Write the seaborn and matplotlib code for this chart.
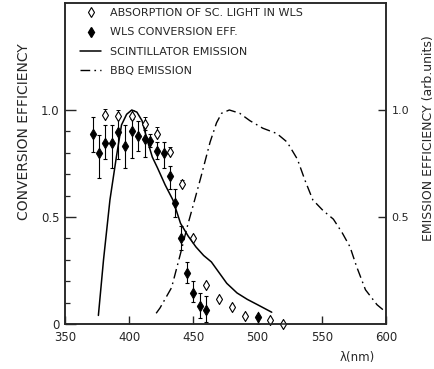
import numpy as np
import matplotlib
matplotlib.use("Agg")
import matplotlib.pyplot as plt
from matplotlib.lines import Line2D
import seaborn as sns

# ---------------- data ----------------
scint_x = [376, 380, 385, 390, 394, 398, 402, 406, 410, 414, 418, 422, 428, 434,
           440, 446, 452, 458, 464, 470, 476, 484, 492, 500, 511]
scint_y = [0.04, 0.30, 0.58, 0.78, 0.93, 0.98, 1.00, 0.99, 0.95, 0.86, 0.78, 0.73,
           0.65, 0.58, 0.47, 0.41, 0.36, 0.32, 0.29, 0.24, 0.19, 0.145, 0.115, 0.09, 0.055]

bbq_x = [421, 424, 433, 440, 445, 451, 456, 463, 468, 472, 478, 486, 494, 504, 515,
         523, 531, 537, 543, 551, 559, 566, 572, 577, 584, 593, 598]
bbq_y = [0.05, 0.075, 0.17, 0.33, 0.45, 0.58, 0.69, 0.85, 0.94, 0.985, 1.0, 0.985, 0.95,
         0.915, 0.89, 0.85, 0.77, 0.67, 0.58, 0.53, 0.49, 0.425, 0.36, 0.27, 0.16, 0.09, 0.065]

wls_x = [371.5, 376.5, 381.5, 386.5, 391.5, 396.5, 402, 407, 412, 416, 422, 427, 432,
         436, 440, 445, 450, 455, 460, 500]
wls_y = [0.89, 0.80, 0.845, 0.845, 0.895, 0.83, 0.90, 0.88, 0.865, 0.857, 0.81, 0.80,
         0.69, 0.565, 0.40, 0.24, 0.146, 0.084, 0.065, 0.031]
wls_err_lo = [0.085, 0.12, 0.075, 0.115, 0.125, 0.10, 0.125, 0.07, 0.085, 0.03, 0.04,
              0.07, 0.06, 0.065, 0.055, 0.05, 0.045, 0.056, 0.055, 0.031]
wls_err_hi = [0.075, 0.085, 0.085, 0.085, 0.075, 0.10, 0.06, 0.07, 0.04, 0.03, 0.04,
              0.05, 0.05, 0.065, 0.06, 0.05, 0.054, 0.061, 0.065, 0.01]

abs_x = [381.5, 391.5, 402, 412, 422, 432, 441, 450, 460, 470, 480, 490, 510, 520]
abs_y = [0.975, 0.97, 0.97, 0.935, 0.89, 0.805, 0.655, 0.40, 0.18, 0.117, 0.081,
         0.039, 0.019, 0.0]
abs_err = [0.03, 0.03, 0.03, 0.03, 0.03, 0.02, 0.02, 0.0, 0.0, 0.0, 0.0, 0.0, 0.0, 0.0]

x_ticks = [350, 400, 450, 500, 550, 600]
left_ticks = [0, 0.5, 1.0]
left_labels = ["0", "0.5", "1.0"]
right_ticks = [0.5, 1.0]
right_labels = ["0.5", "1.0"]

legend_labels = ["ABSORPTION OF SC. LIGHT IN WLS", "WLS CONVERSION EFF.",
                 "SCINTILLATOR EMISSION", "BBQ EMISSION"]

# ---------------- style ----------------
sns.set_style("ticks")
plt.rcParams["font.family"] = ["DejaVu Sans"]
plt.rcParams["axes.linewidth"] = 1.1

fig = plt.figure(figsize=(4.35, 3.69), dpi=100)
ax = fig.add_axes([65 / 435, 1 - 324 / 369, 321 / 435, 321 / 369])
ax2 = ax.twinx()

dashdot = (0, (7, 3, 1.2, 3))

sns.lineplot(x=scint_x, y=scint_y, ax=ax, color="black", linewidth=1.1, sort=False)
sns.lineplot(x=bbq_x, y=bbq_y, ax=ax2, color="black", linewidth=1.0,
             linestyle=dashdot, sort=False)

ax.errorbar(wls_x, wls_y, yerr=[wls_err_lo, wls_err_hi], fmt="none", ecolor="black",
            elinewidth=0.8, capsize=1.5, capthick=0.8)
ax.errorbar(abs_x, abs_y, yerr=[[0] * len(abs_err), abs_err], fmt="none", ecolor="black",
            elinewidth=0.7, capsize=1.2, capthick=0.7)
sns.scatterplot(x=wls_x, y=wls_y, ax=ax, marker="d", s=30, color="black",
                edgecolor="black", linewidth=0.6, zorder=5)
sns.scatterplot(x=abs_x, y=abs_y, ax=ax, marker="d", s=26, color="white",
                edgecolor="black", linewidth=0.8, zorder=5)
for coll in ax.collections:
    coll.set_clip_on(False)

# axes limits and ticks
for a in (ax, ax2):
    a.set_xlim(350, 600)
    a.set_ylim(0, 1.5)

ax.set_xticks(x_ticks)
ax.set_xticklabels([str(t) for t in x_ticks], fontsize=8.5)
ax.set_yticks(left_ticks)
ax.set_yticklabels(left_labels, fontsize=8.5)
ax.set_yticks([0.1, 0.2, 0.3, 0.4, 0.6, 0.7, 0.8, 0.9], minor=True)
ax.tick_params(axis="y", which="major", direction="in", length=8, width=1.0, pad=4)
ax.tick_params(axis="y", which="minor", direction="in", length=3.5, width=0.9)
ax.tick_params(axis="x", which="major", direction="in", length=6, width=1.0, pad=5)
ax.tick_params(axis="x", which="minor", bottom=False)

ax2.set_yticks(right_ticks)
ax2.set_yticklabels(right_labels, fontsize=8)
ax2.tick_params(axis="y", which="major", direction="in", length=6, width=1.0, pad=4)
ax2.tick_params(axis="y", which="minor", right=False)

for a in (ax, ax2):
    for s in a.spines.values():
        s.set_visible(True)
        s.set_linewidth(1.1)

ax.set_ylabel("CONVERSION EFFICIENCY", fontsize=10)
ax.yaxis.set_label_coords(-0.106, 0.60)
ax2.set_ylabel("EMISSION EFFICIENCY (arb.units)", fontsize=9, rotation=90)
ax2.yaxis.set_label_coords(1.112, 0.58)
ax.set_xlabel("λ(nm)", fontsize=8.5)
ax.xaxis.set_label_coords(0.91, -0.084)

# legend
handles = [
    Line2D([], [], marker="d", color="black", mfc="white", mec="black", ms=5,
           mew=0.8, linestyle="none"),
    Line2D([], [], marker="d", color="black", mfc="black", mec="black", ms=5,
           linestyle="none"),
    Line2D([], [], color="black", linewidth=1.1),
    Line2D([], [], color="black", linewidth=1.0, linestyle=dashdot),
]
ax.legend(handles, legend_labels, loc="upper left",
          bbox_to_anchor=(80 / 435, 1 - 8 / 369), bbox_transform=fig.transFigure,
          frameon=False, fontsize=8, handlelength=1.9, handletextpad=0.8,
          labelspacing=0.85, borderpad=0, borderaxespad=0)

fig.savefig("out.png", dpi=100)
